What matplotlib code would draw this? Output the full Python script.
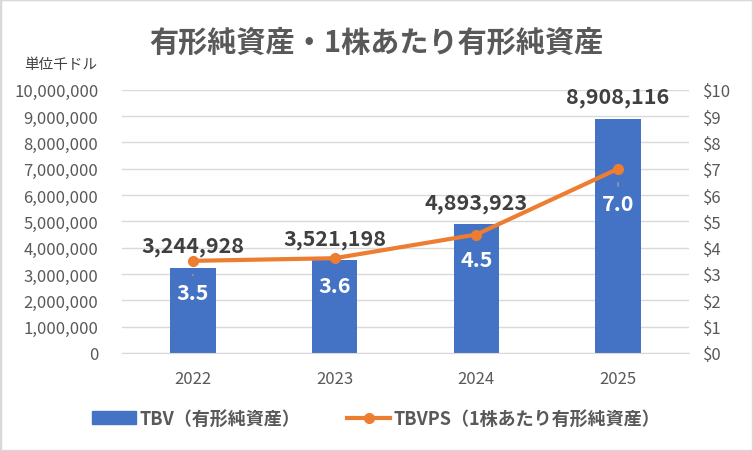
import matplotlib
matplotlib.use("Agg")
import matplotlib.pyplot as plt
from matplotlib.patches import Rectangle
from matplotlib.lines import Line2D

plt.rcParams['font.family'] = ['Noto Sans CJK JP', 'DejaVu Sans']

years = ["2022", "2023", "2024", "2025"]
tbv = [3244928, 3521198, 4893923, 8908116]
tbvps = [3.5, 3.6, 4.5, 7.0]
left_ticks = list(range(0, 10000001, 1000000))
right_ticks = list(range(0, 11))

BLUE = "#4472C4"
ORANGE = "#ED7D31"
GRAY = "#595959"
GRID = "#D9D9D9"

fig = plt.figure(figsize=(7.53, 4.52), dpi=100)
fig.patches.append(Rectangle((0, 0), 1, 1, transform=fig.transFigure,
                             fill=False, edgecolor="#D9D9D9", linewidth=2.5))

ax = fig.add_axes([0.162, 0.217, 0.753, 0.582])
x = list(range(len(years)))
ax.bar(x, tbv, width=0.32, color=BLUE, zorder=2)
ax.set_xlim(-0.5, len(years) - 0.5)
ax.set_ylim(0, 10000000)
ax.set_yticks(left_ticks)
ax.set_yticklabels([f"{v:,}" for v in left_ticks])
ax.set_xticks(x)
ax.set_xticklabels(years)
ax.grid(axis='y', color=GRID, linewidth=1, zorder=0)
ax.set_axisbelow(True)
for s in ax.spines.values():
    s.set_visible(False)
ax.spines['bottom'].set_visible(True)
ax.spines['bottom'].set_color(GRID)
ax.tick_params(axis='y', length=0, labelsize=12, colors=GRAY, pad=17)
ax.tick_params(axis='x', length=0, labelsize=12, colors=GRAY, pad=12)

for xi, v in zip(x, tbv):
    ax.annotate(f"{v:,}", (xi, v), xytext=(0, 8), textcoords='offset points',
                ha='center', va='bottom', fontsize=15.5, fontweight='bold', color="#404040")

ax2 = ax.twinx()
ax2.set_ylim(0, 10)
ax2.set_yticks(right_ticks)
ax2.set_yticklabels([f"${v}" for v in right_ticks])
for s in ax2.spines.values():
    s.set_visible(False)
ax2.tick_params(axis='y', length=0, labelsize=12, colors=GRAY, pad=10)
ax2.plot(x, tbvps, color=ORANGE, linewidth=3, marker='o', markersize=7, zorder=3)

offsets = [-23, -19.5, -18, -25]
leaders = [True, False, False, True]
for xi, v, off, ld in zip(x, tbvps, offsets, leaders):
    ap = dict(arrowstyle='-', color="#A6A6A6", lw=1, shrinkA=3, shrinkB=10) if ld else None
    ax2.annotate(f"{v:.1f}", (xi, v), xytext=(0, off), textcoords='offset points',
                 ha='center', va='center', fontsize=15.5, fontweight='bold', color="white",
                 arrowprops=ap)

fig.text(0.5, 0.905, "有形純資産・1株あたり有形純資産", ha='center', va='center',
         fontsize=21, fontweight='bold', color=GRAY)
fig.text(0.08, 0.857, "単位千ドル", ha='center', va='center', fontsize=10.5, color="#404040")

handles = [Rectangle((0, 0), 1, 1, color=BLUE),
           Line2D([0], [0], color=ORANGE, lw=3, marker='o', markersize=7)]
fig.legend(handles, ["TBV（有形純資産）", "TBVPS（1株あたり有形純資産）"],
           loc='center', bbox_to_anchor=(0.5, 0.072), ncol=2, frameon=False,
           prop={'size': 13, 'weight': 'bold'}, labelcolor=GRAY,
           handlelength=2.4, columnspacing=2.6, handletextpad=0.2)

fig.savefig("out.png", dpi=100)
